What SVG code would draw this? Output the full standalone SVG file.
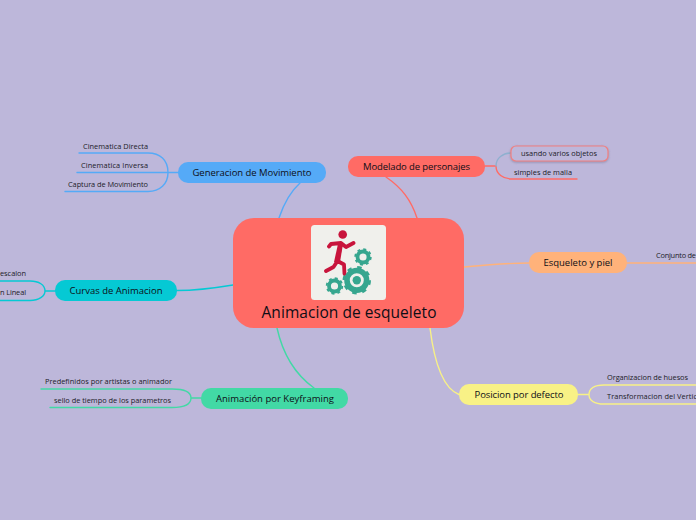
<svg xmlns="http://www.w3.org/2000/svg" width="696" height="520" viewBox="0 0 696 520">
<style>
text{font-family:"Open Sans","Noto Sans","Liberation Sans",sans-serif;fill:#0e0e16}
.t{font-size:9.5px;text-anchor:middle}
.s{font-size:7.4px;fill:#1c1c28}
.c{fill:none;stroke-width:1.4;stroke-linecap:round}
.r{fill:none;stroke:#c8143c;stroke-width:3.8;stroke-linecap:round;stroke-linejoin:round}
</style>
<defs>
<g id="gear-s" fill="none" stroke="#36a68f"><circle r="5.500" stroke-width="3.800"/><circle r="7.800" stroke-width="1.800" stroke-dasharray="3 3.130"/></g>
<filter id="sh" x="-10%" y="-30%" width="120%" height="170%"><feDropShadow dx="0" dy="1" stdDeviation="1" flood-color="#5a5a78" flood-opacity=".45"/></filter>
</defs>
<rect width="696" height="520" fill="#bdb7da"/>
<g id="connectors">
<path class="c" stroke="#55aaf7" d="M279 218C284 203 290 192 300 183M178 172.500H77M79 153H148C160 153 168 160 168 172.500C168 184 160 191.500 148 191.500H65"/>
<path class="c" stroke="#ff6b65" d="M417 218C411 200 402 188 386 177M485 166H496M496 166C496 174 503 179 512 179H577"/>
<path class="c" stroke="#8fb0cf" d="M496 166C496 158 503 153 511 153"/>
<path class="c" stroke="#ffb27a" d="M464 267C485 265 505 263 529 263M627 263H696"/>
<path class="c" stroke="#05c9d4" d="M177 290.500C198 290.500 215 288 233 285M45 291H55M0 281H30C39 281 45 285 45 291C45 296 39 300.500 30 300.500H0"/>
<path class="c" stroke="#42d9a5" d="M277 328C283 355 296 375 314 388M201 398H191M41 389H172C184 389 191 392 191 398C191 404 184 407.500 172 407.500H50"/>
<path class="c" stroke="#f8f186" d="M430 328C434 360 442 388 459 394.500M578 394.500H589M696 385H604C594 385 589 389 589 394.500C589 400 594 404 604 404H696"/>
</g>
<g id="center">
<rect x="233" y="218" width="231" height="110" rx="21" fill="#ff6b65"/>
<rect x="311" y="225" width="75" height="75" rx="3.500" fill="#f0f0ec"/>
<circle cx="342.700" cy="234.500" r="4.300" fill="#c8143c"/>
<path class="r" d="M329 246.500L331 244L341 243L346 247L353.500 243M341 243L337.500 261L344 264.500L344.500 274M337.500 261L333.500 267L326 271"/>
<path d="M338 244H343L340 262H334Z" fill="#c8143c"/>
<g fill="none" stroke="#36a68f"><circle cx="356.800" cy="280.300" r="9.800" stroke-width="5.600"/><circle cx="356.800" cy="280.300" r="13" stroke-width="2.400" stroke-dasharray="4.500 5.710"/><circle cx="356.800" cy="280.300" r="4.200" fill="#36a68f" stroke="none"/></g>
<use href="#gear-s" x="363" y="257"/>
<use href="#gear-s" x="334.500" y="286"/>
<text x="349" y="317.500" font-size="15.500" text-anchor="middle" textLength="175" lengthAdjust="spacing">Animacion de esqueleto</text>
</g>
<g id="generacion">
<rect x="178" y="162" width="148" height="21" rx="10" fill="#55aaf7"/>
<text class="t" x="252" y="176" textLength="119" lengthAdjust="spacing">Generacion de Movimiento</text>
<text class="s" x="83" y="149" textLength="65" lengthAdjust="spacing">Cinematica Directa</text>
<text class="s" x="81" y="168" textLength="67" lengthAdjust="spacing">Cinematica Inversa</text>
<text class="s" x="68" y="187" textLength="80" lengthAdjust="spacing">Captura de Movimiento</text>
</g>
<g id="modelado">
<rect x="348" y="156" width="137" height="21" rx="10" fill="#ff6b65"/>
<text class="t" x="416.500" y="170" textLength="107" lengthAdjust="spacing">Modelado de personajes</text>
<rect x="511" y="146" width="97" height="15" rx="5" fill="#bdb7da" stroke="#f08080" stroke-width="1.200" filter="url(#sh)"/>
<text class="s" x="521" y="156" textLength="76" lengthAdjust="spacing">usando varios objetos</text>
<text class="s" x="514" y="175" textLength="58" lengthAdjust="spacing">simples de malla</text>
</g>
<g id="esqueleto">
<rect x="529" y="252" width="98" height="21" rx="10" fill="#ffb27a"/>
<text class="t" x="578" y="266" textLength="69" lengthAdjust="spacing">Esqueleto y piel</text>
<text class="s" x="656" y="258" textLength="40" lengthAdjust="spacing">Conjunto de</text>
</g>
<g id="curvas">
<rect x="55" y="280" width="122" height="21" rx="10" fill="#05c9d4"/>
<text class="t" x="116" y="294" textLength="93" lengthAdjust="spacing">Curvas de Animacion</text>
<text class="s" x="0" y="276" textLength="26" lengthAdjust="spacing">escalon</text>
<text class="s" x="0" y="295" textLength="26" lengthAdjust="spacing">n Lineal</text>
</g>
<g id="keyframing">
<rect x="201" y="388" width="147" height="21" rx="10" fill="#42d9a5"/>
<text class="t" x="275" y="402" textLength="118" lengthAdjust="spacing">Animación por Keyframing</text>
<text class="s" x="45" y="384" textLength="127" lengthAdjust="spacing">Predefinidos por artistas o animador</text>
<text class="s" x="54" y="403" textLength="117" lengthAdjust="spacing">sello de tiempo de los parametros</text>
</g>
<g id="posicion">
<rect x="459" y="384" width="119" height="21" rx="10" fill="#f8f186"/>
<text class="t" x="519" y="398" textLength="89" lengthAdjust="spacing">Posicion por defecto</text>
<text class="s" x="607" y="380" textLength="81" lengthAdjust="spacing">Organizacion de huesos</text>
<text class="s" x="607" y="399" textLength="90" lengthAdjust="spacing">Transformacion del Vertic</text>
</g>
</svg>
